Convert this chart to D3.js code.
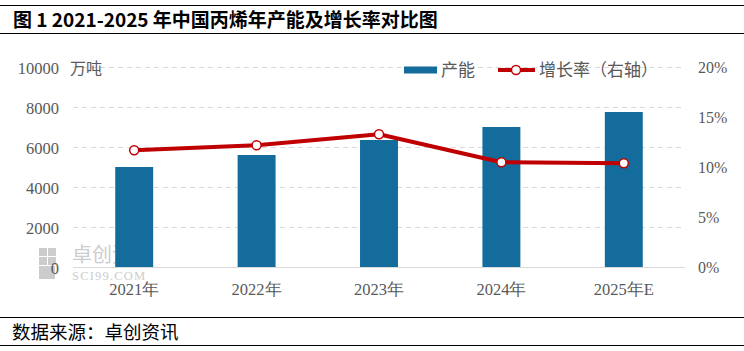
<!DOCTYPE html>
<html><head><meta charset="utf-8">
<script src="https://cdn.jsdelivr.net/npm/d3@7"></script>
<style>body{margin:0;background:#fff}svg{display:block}</style>
</head><body><svg id="c" width="744" height="351"></svg>
<script>
const categories = ["2021年","2022年","2023年","2024年","2025年E"];
const capacity = [5015, 5615, 6365, 7015, 7765];
const growth = [11.7, 12.2, 13.3, 10.5, 10.4];
const leftTicks = [0, 2000, 4000, 6000, 8000, 10000];
const rightTicks = [0, 5, 10, 15, 20];

const svg = d3.select("#c");
const m = {l:73, r:685, t:67.3, b:267.3};
const x = d3.scaleBand().domain(categories).range([m.l, m.r]).paddingInner(0.69).paddingOuter(0.345);
const yL = d3.scaleLinear().domain([0,10000]).range([m.b, m.t]);
const yR = d3.scaleLinear().domain([0,20]).range([m.b, m.t]);
const gray = "#595959";
const numFont = "'Liberation Serif', serif";
const cjk = "'Noto Sans CJK SC', sans-serif";

// title and frame lines
svg.append("line").attr("x1",0).attr("x2",744).attr("y1",5.5).attr("y2",5.5).attr("stroke","#000").attr("stroke-width",1.2);
svg.append("line").attr("x1",0).attr("x2",744).attr("y1",33.5).attr("y2",33.5).attr("stroke","#000").attr("stroke-width",1.2);
svg.append("text").attr("x",13).attr("y",26.5).attr("font-family",cjk).attr("font-size",19).attr("font-weight","bold").attr("fill","#000").text("图 1 2021-2025 年中国丙烯年产能及增长率对比图");
svg.append("line").attr("x1",0).attr("x2",744).attr("y1",317.5).attr("y2",317.5).attr("stroke","#000").attr("stroke-width",1.2);
svg.append("line").attr("x1",0).attr("x2",744).attr("y1",345.5).attr("y2",345.5).attr("stroke","#000").attr("stroke-width",1.2);
svg.append("text").attr("x",12).attr("y",339).attr("font-family",cjk).attr("font-size",18.5).attr("fill","#000").text("数据来源：卓创资讯");

// gridlines
svg.append("g").selectAll("line").data(leftTicks.filter(d=>d>0)).join("line")
  .attr("x1",m.l).attr("x2",m.r).attr("y1",d=>Math.round(yL(d))+0.5).attr("y2",d=>Math.round(yL(d))+0.5)
  .attr("stroke","#d9d9d9").attr("stroke-width",1).attr("stroke-dasharray","5,4");

// watermark
const wm = svg.append("g").attr("opacity",0.5);
[[39,248,8,8],[48,248,8,8],[39,257,8,8],[39,266,16,13],[48,257,8,8]].forEach(r=>{
  wm.append("rect").attr("x",r[0]).attr("y",r[1]).attr("width",r[2]).attr("height",r[3]).attr("fill","#9a9a9a");
});
wm.append("text").attr("x",72).attr("y",262).attr("font-family",cjk).attr("font-size",20).attr("fill","#9a9a9a").text("卓创资讯");
wm.append("text").attr("x",72).attr("y",280).attr("font-family",numFont).attr("font-size",12.5).attr("letter-spacing",1.2).attr("fill","#9a9a9a").text("SCI99.COM");

// bars
svg.append("g").selectAll("rect").data(capacity).join("rect")
  .attr("x",(d,i)=>x(categories[i])).attr("width",x.bandwidth())
  .attr("y",d=>yL(d)).attr("height",d=>yL(0)-yL(d)).attr("fill","#136c9c");

// baseline
svg.append("line").attr("x1",m.l).attr("x2",m.r).attr("y1",Math.round(yL(0))+0.5).attr("y2",Math.round(yL(0))+0.5).attr("stroke","#d9d9d9");

// line
const line = d3.line().x((d,i)=>x(categories[i])+x.bandwidth()/2).y(d=>yR(d));
svg.append("path").datum(growth).attr("d",line).attr("fill","none").attr("stroke","#c00000").attr("stroke-width",4).attr("stroke-linejoin","round");
svg.append("g").selectAll("circle").data(growth).join("circle")
  .attr("cx",(d,i)=>x(categories[i])+x.bandwidth()/2).attr("cy",d=>yR(d)).attr("r",4.5)
  .attr("fill","#fff").attr("stroke","#c00000").attr("stroke-width",1.5);

// left axis
const axL = d3.axisLeft(yL).tickValues(leftTicks).tickSize(0).tickPadding(0).tickFormat(d3.format("d"));
const gL = svg.append("g").attr("transform","translate(59,0)").call(axL);
gL.select(".domain").remove();
gL.selectAll("text").attr("font-family",numFont).attr("font-size",16.5).attr("fill",gray).attr("dy","0.35em");
svg.append("text").attr("x",70).attr("y",73.5).attr("font-family",cjk).attr("font-size",16).attr("fill",gray).text("万吨");

// right axis
const axR = d3.axisRight(yR).tickValues(rightTicks).tickSize(0).tickPadding(0).tickFormat(d=>d+"%");
const gR = svg.append("g").attr("transform","translate(698,0)").call(axR);
gR.select(".domain").remove();
gR.selectAll("text").attr("font-family",numFont).attr("font-size",16).attr("fill",gray).attr("dy","0.35em");

// x axis labels
const axX = d3.axisBottom(x).tickSize(0).tickPadding(0);
const gX = svg.append("g").attr("transform","translate(0,283.5)").call(axX);
gX.select(".domain").remove();
gX.selectAll("text").attr("font-family",numFont).attr("font-size",16.5).attr("fill",gray).attr("dy","0.71em");

// legend
const lg = svg.append("g");
lg.append("rect").attr("x",404).attr("y",66.5).attr("width",33).attr("height",7).attr("fill","#136c9c");
lg.append("text").attr("x",441).attr("y",76).attr("font-family",cjk).attr("font-size",17).attr("fill",gray).text("产能");
lg.append("line").attr("x1",498).attr("x2",535).attr("y1",70).attr("y2",70).attr("stroke","#c00000").attr("stroke-width",4);
lg.append("circle").attr("cx",516).attr("cy",70).attr("r",4.5).attr("fill","#fff").attr("stroke","#c00000").attr("stroke-width",1.5);
lg.append("text").attr("x",539).attr("y",76).attr("font-family",cjk).attr("font-size",17).attr("fill",gray).text("增长率（右轴）");
</script></body></html>
